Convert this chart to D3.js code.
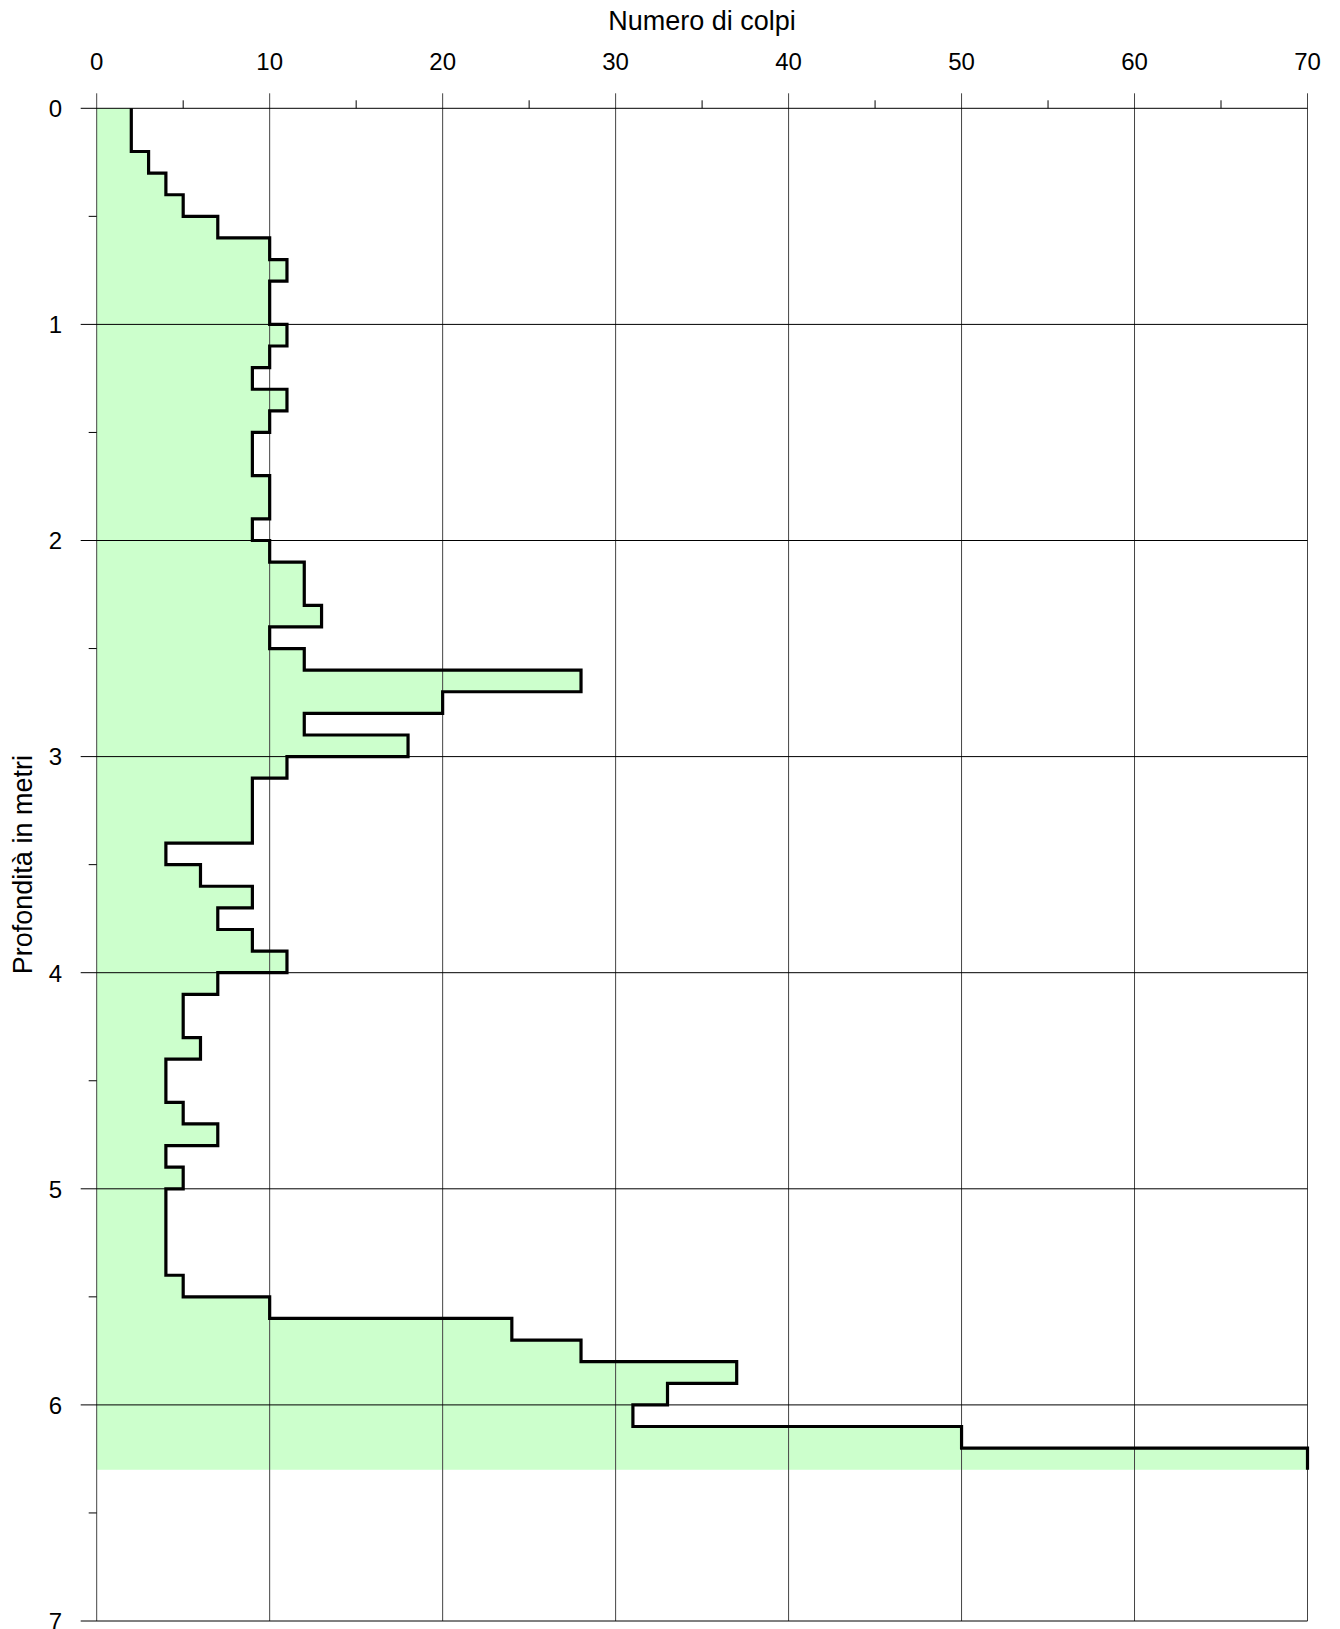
<!DOCTYPE html>
<html>
<head>
<meta charset="utf-8">
<script src="https://cdn.jsdelivr.net/npm/d3@7"></script>
<style>
  html, body { margin: 0; padding: 0; background: #fff; }
  svg { display: block; font-family: "Liberation Sans", Arial, sans-serif; }
</style>
</head>
<body>
<svg id="chart" width="1340" height="1629"></svg>
<script>
// Penetrometric test: blows per 10 cm interval, from 0.0 m down to 6.3 m
const intervalTop = [
  0.0, 0.1, 0.2, 0.3, 0.4, 0.5, 0.6, 0.7, 0.8, 0.9,
  1.0, 1.1, 1.2, 1.3, 1.4, 1.5, 1.6, 1.7, 1.8, 1.9,
  2.0, 2.1, 2.2, 2.3, 2.4, 2.5, 2.6, 2.7, 2.8, 2.9,
  3.0, 3.1, 3.2, 3.3, 3.4, 3.5, 3.6, 3.7, 3.8, 3.9,
  4.0, 4.1, 4.2, 4.3, 4.4, 4.5, 4.6, 4.7, 4.8, 4.9,
  5.0, 5.1, 5.2, 5.3, 5.4, 5.5, 5.6, 5.7, 5.8, 5.9,
  6.0, 6.1, 6.2
];
const intervalStep = 0.1;
const blows = [
  2, 2, 3, 4, 5, 7, 10, 11, 10, 10,
  11, 10, 9, 11, 10, 9, 9, 10, 10, 9,
  10, 12, 12, 13, 10, 12, 28, 20, 12, 18,
  11, 9, 9, 9, 4, 6, 9, 7, 9, 11,
  7, 5, 5, 6, 4, 4, 5, 7, 4, 5,
  4, 4, 4, 4, 5, 10, 24, 28, 37, 33,
  31, 50, 70
];
const xMajorTicks = [0, 10, 20, 30, 40, 50, 60, 70];
const xMinorTicks = [5, 15, 25, 35, 45, 55, 65];
const yMajorTicks = [0, 1, 2, 3, 4, 5, 6, 7];
const yMinorTicks = [0.5, 1.5, 2.5, 3.5, 4.5, 5.5, 6.5];
const xTitle = "Numero di colpi";
const yTitle = "Profondità in metri";

const svg = d3.select("#chart");

const x = d3.scaleLinear().domain([0, 70]).range([96.7, 1307.5]);
const y = d3.scaleLinear().domain([0, 7]).range([108.3, 1621]);

// Each interval contributes its top and bottom corner at the same blow count
const steps = [];
intervalTop.forEach((d, i) => {
  steps.push({ depth: d, n: blows[i] });
  steps.push({ depth: d + intervalStep, n: blows[i] });
});

// Shaded profile
const area = d3.area()
  .y(d => y(d.depth))
  .x0(x(0))
  .x1(d => x(d.n));
svg.append("path")
  .datum(steps)
  .attr("d", area)
  .attr("fill", "#ccffcc")
  .attr("stroke", "none");

const grid = svg.append("g").attr("class", "grid");

// Vertical grid lines (extend above the top axis as major ticks)
grid.selectAll("line.v")
  .data(xMajorTicks)
  .join("line")
  .attr("class", "v")
  .attr("x1", d => x(d)).attr("x2", d => x(d))
  .attr("y1", y(0) - 15).attr("y2", y(7))
  .attr("stroke", "#444").attr("stroke-width", 1);

// Horizontal grid lines (extend left of the depth axis as major ticks)
grid.selectAll("line.h")
  .data(yMajorTicks)
  .join("line")
  .attr("class", "h")
  .attr("x1", x(0) - 16).attr("x2", x(70))
  .attr("y1", d => y(d)).attr("y2", d => y(d))
  .attr("stroke", "#000").attr("stroke-width", 1);

// Minor ticks
grid.selectAll("line.xm")
  .data(xMinorTicks)
  .join("line")
  .attr("class", "xm")
  .attr("x1", d => x(d)).attr("x2", d => x(d))
  .attr("y1", y(0) - 8).attr("y2", y(0))
  .attr("stroke", "#000").attr("stroke-width", 1);

grid.selectAll("line.ym")
  .data(yMinorTicks)
  .join("line")
  .attr("class", "ym")
  .attr("x1", x(0) - 8).attr("x2", x(0))
  .attr("y1", d => y(d)).attr("y2", d => y(d))
  .attr("stroke", "#000").attr("stroke-width", 1);

// Tick labels
svg.append("g").selectAll("text")
  .data(xMajorTicks)
  .join("text")
  .attr("x", d => x(d))
  .attr("y", 70)
  .attr("text-anchor", "middle")
  .attr("font-size", 24)
  .attr("fill", "#000")
  .text(d => d);

svg.append("g").selectAll("text")
  .data(yMajorTicks)
  .join("text")
  .attr("x", 62)
  .attr("y", d => y(d) + 8.8)
  .attr("text-anchor", "end")
  .attr("font-size", 24)
  .attr("fill", "#000")
  .text(d => d);

// Axis titles
svg.append("text")
  .attr("x", (x(0) + x(70)) / 2)
  .attr("y", 30)
  .attr("text-anchor", "middle")
  .attr("font-size", 27)
  .attr("fill", "#000")
  .text(xTitle);

svg.append("text")
  .attr("transform", `translate(32, ${(y(0) + y(7)) / 2}) rotate(-90)`)
  .attr("text-anchor", "middle")
  .attr("font-size", 27)
  .attr("fill", "#000")
  .text(yTitle);

// Step profile line
const line = d3.line()
  .x(d => x(d.n))
  .y(d => y(d.depth));
svg.append("path")
  .datum(steps)
  .attr("d", line)
  .attr("fill", "none")
  .attr("stroke", "#000")
  .attr("stroke-width", 3.2)
  .attr("stroke-linejoin", "miter")
  .attr("stroke-linecap", "butt");
</script>
</body>
</html>
